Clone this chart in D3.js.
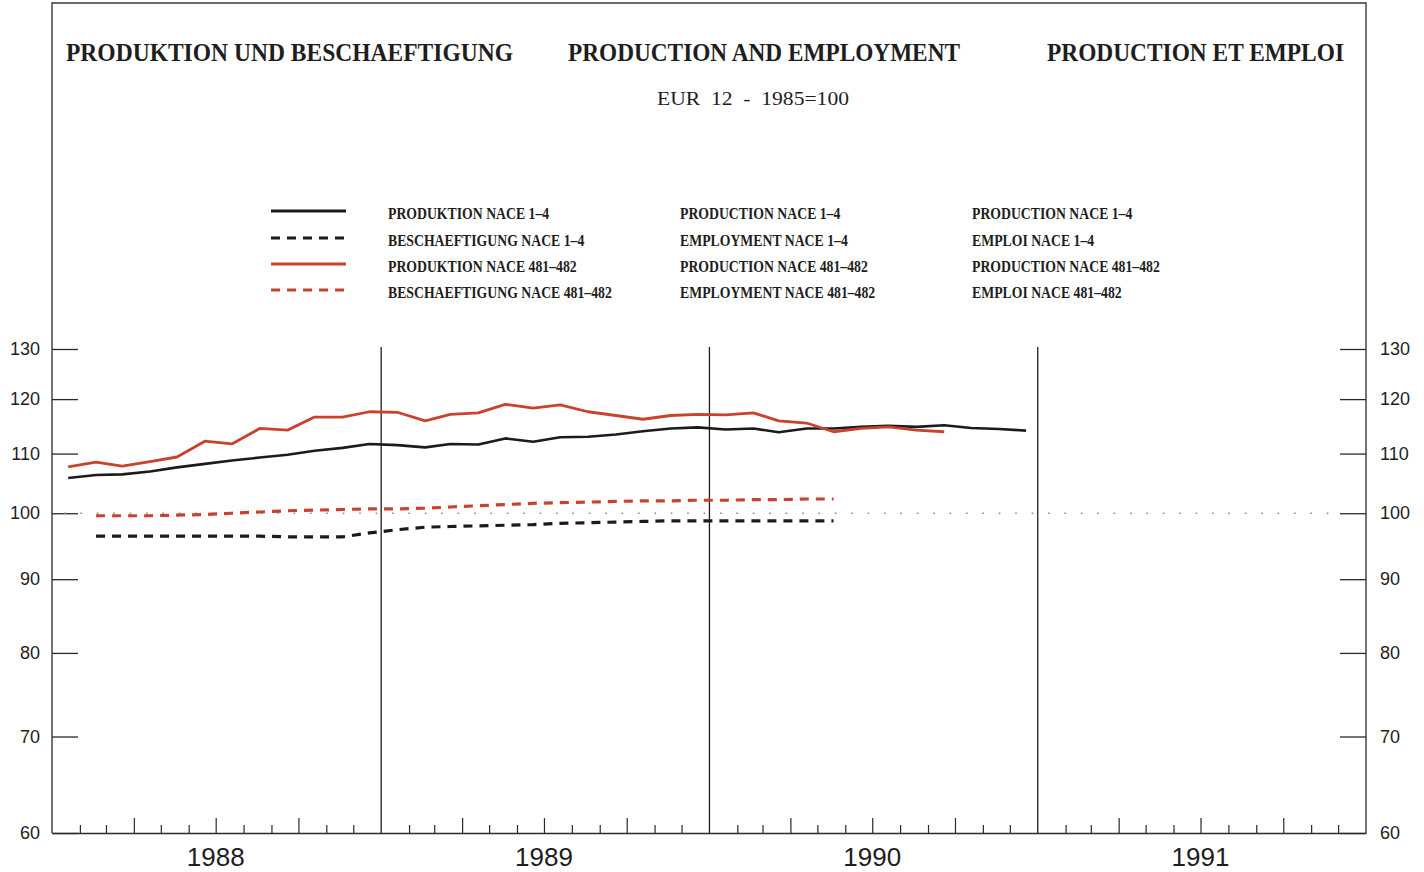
<!DOCTYPE html>
<html>
<head>
<meta charset="utf-8">
<script src="https://cdn.jsdelivr.net/npm/d3@7"></script>
<style>
  html, body { margin: 0; padding: 0; background: #ffffff; }
  svg { display: block; }
  text { fill: #1e1e1e; }
</style>
</head>
<body>
<svg id="chart" width="1424" height="872"></svg>
<script>
// ---------------- DATA ----------------
const titles = ["PRODUKTION UND BESCHAEFTIGUNG", "PRODUCTION AND EMPLOYMENT", "PRODUCTION ET EMPLOI"];
const subtitle = "EUR  12  -  1985=100";
const years = [1988, 1989, 1990, 1991];
const yTicks = [60, 70, 80, 90, 100, 110, 120, 130];

// Monthly index values, production NACE 1-4, Jan 1988 - Dec 1990
const prodNace14 = [105.8, 106.3, 106.4, 106.9, 107.6, 108.2, 108.8, 109.3, 109.8, 110.5, 111.0, 111.7,
                    111.5, 111.1, 111.7, 111.6, 112.7, 112.1, 112.9, 113.0, 113.4, 114.0, 114.5, 114.7,
                    114.3, 114.5, 113.8, 114.5, 114.5, 114.8, 115.0, 114.8, 115.1, 114.6, 114.4, 114.1];
// Production NACE 481-482, Jan 1988 - Sep 1990
const prodNace481 = [107.7, 108.5, 107.8, 108.6, 109.4, 112.2, 111.7, 114.5, 114.2, 116.6, 116.6, 117.6,
                     117.5, 115.9, 117.1, 117.4, 119.0, 118.3, 118.9, 117.6, 116.9, 116.2, 116.9, 117.1,
                     117.0, 117.4, 115.9, 115.5, 113.9, 114.5, 114.8, 114.2, 113.9];
// Employment NACE 1-4, Feb 1988 - May 1990
const emplNace14 = [96.4, 96.4, 96.4, 96.4, 96.4, 96.4, 96.4, 96.3, 96.3, 96.3, 96.9,
                    97.4, 97.8, 97.9, 98.0, 98.1, 98.2, 98.4, 98.5, 98.6, 98.7, 98.8, 98.8,
                    98.8, 98.8, 98.8, 98.8, 98.8];
// Employment NACE 481-482, Feb 1988 - May 1990
const emplNace481 = [99.6, 99.6, 99.6, 99.7, 99.8, 100.0, 100.2, 100.4, 100.5, 100.6, 100.7,
                     100.7, 100.8, 101.0, 101.2, 101.4, 101.6, 101.7, 101.8, 101.9, 102.0, 102.0, 102.1,
                     102.1, 102.2, 102.2, 102.3, 102.3];

const legendDe = ["PRODUKTION NACE 1–4", "BESCHAEFTIGUNG NACE 1–4", "PRODUKTION NACE 481–482", "BESCHAEFTIGUNG NACE 481–482"];
const legendEn = ["PRODUCTION NACE 1–4", "EMPLOYMENT NACE 1–4", "PRODUCTION NACE 481–482", "EMPLOYMENT NACE 481–482"];
const legendFr = ["PRODUCTION NACE 1–4", "EMPLOI NACE 1–4", "PRODUCTION NACE 481–482", "EMPLOI NACE 481–482"];

// ---------------- STYLE ----------------
const BLACK = "#1b1b1b";
const RED = "#c9422e";
const series = [
  { values: prodNace14,  startMonth: 0, color: BLACK, dash: null,  width: 2.6 },
  { values: emplNace14,  startMonth: 1, color: BLACK, dash: "9,7", width: 3.2 },
  { values: prodNace481, startMonth: 0, color: RED,   dash: null,  width: 2.8 },
  { values: emplNace481, startMonth: 1, color: RED,   dash: "9,7", width: 3.2 }
];

const svg = d3.select("#chart");
const M = { left: 52, right: 1366, top: 3, bottom: 833, plotTop: 347 };

const x = d3.scaleTime()
  .domain([new Date(1988, 0, 1), new Date(1992, 0, 1)])
  .range([M.left, M.right]);
const y = d3.scaleLog()
  .domain([60, 130])
  .range([M.bottom, 349]);

const pointDate = i => new Date(1988, i, 19);

// ---------------- FRAME ----------------
svg.append("path")
  .attr("d", `M${M.left},${M.bottom}V${M.top}H${M.right}V${M.bottom}`)
  .attr("fill", "none").attr("stroke", "#3a3a3a").attr("stroke-width", 1.4);

// ---------------- TITLES ----------------
const titleX = [66, 568, 1047];
const titleW = [447, 392, 297];
svg.selectAll("text.title").data(titles).join("text")
  .attr("class", "title")
  .attr("x", (d, i) => titleX[i]).attr("y", 61)
  .attr("textLength", (d, i) => titleW[i])
  .attr("lengthAdjust", "spacingAndGlyphs")
  .style("font-family", "'Liberation Serif', 'DejaVu Serif', serif")
  .style("font-weight", "bold").style("font-size", "26px")
  .text(d => d);

svg.append("text")
  .attr("x", 657).attr("y", 105)
  .attr("textLength", 192).attr("lengthAdjust", "spacingAndGlyphs")
  .style("font-family", "'Liberation Serif', serif")
  .style("font-size", "18px")
  .style("white-space", "pre")
  .text(subtitle);

// ---------------- LEGEND ----------------
const legRowY = [211, 238, 264, 290];
const leg = svg.append("g");
series.forEach((s, i) => {
  leg.append("line")
    .attr("x1", 271).attr("x2", 346)
    .attr("y1", legRowY[i]).attr("y2", legRowY[i])
    .attr("stroke", s.color).attr("stroke-width", 3)
    .attr("stroke-dasharray", s.dash ? "9,7" : null);
});
const legCols = [{ x: 388, labels: legendDe }, { x: 680, labels: legendEn }, { x: 972, labels: legendFr }];
legCols.forEach(col => {
  col.labels.forEach((t, i) => {
    leg.append("text")
      .attr("transform", `translate(${col.x},${legRowY[i] + 8}) scale(0.86,1)`)
      .style("font-family", "'Liberation Serif', serif")
      .style("font-weight", "bold").style("font-size", "16px")
      .text(t);
  });
});

// ---------------- AXES ----------------
const fmt = d3.format("d");
const yLeft = svg.append("g")
  .attr("transform", `translate(${M.left},0)`)
  .call(d3.axisLeft(y).tickValues(yTicks).tickFormat(fmt).tickSize(-26).tickPadding(12));
const yRight = svg.append("g")
  .attr("transform", `translate(${M.right},0)`)
  .call(d3.axisRight(y).tickValues(yTicks).tickFormat(fmt).tickSize(-26).tickPadding(14));
[yLeft, yRight].forEach(g => {
  g.select(".domain").remove();
  g.selectAll(".tick line").attr("stroke", "#2a2a2a").attr("stroke-width", 1.3);
  g.selectAll(".tick text")
    .style("font-family", "'Liberation Sans', Arial, sans-serif")
    .style("font-size", "18px").attr("fill", "#1e1e1e");
});

// bottom axis: monthly ticks, quarterly longer
const monthTicks = d3.timeMonth.range(new Date(1988, 1, 1), new Date(1992, 0, 1))
  .filter(d => d.getMonth() !== 0);
const xAxis = svg.append("g")
  .attr("transform", `translate(0,${M.bottom})`)
  .call(d3.axisBottom(x).tickValues(monthTicks).tickFormat("").tickSize(-8).tickSizeOuter(0));
xAxis.select(".domain").attr("stroke", "#2a2a2a").attr("stroke-width", 1.4);
xAxis.selectAll(".tick line")
  .attr("stroke", "#2a2a2a").attr("stroke-width", 1.2)
  .attr("y2", d => (d.getMonth() % 3 === 0) ? -15 : -8);

// year separator lines
svg.selectAll("line.yearSep").data(years.slice(1)).join("line")
  .attr("class", "yearSep")
  .attr("x1", d => x(new Date(d, 0, 1))).attr("x2", d => x(new Date(d, 0, 1)))
  .attr("y1", M.plotTop).attr("y2", M.bottom)
  .attr("stroke", "#1e1e1e").attr("stroke-width", 1.3);

// year labels
svg.selectAll("text.year").data(years).join("text")
  .attr("class", "year")
  .attr("x", d => x(new Date(d, 6, 1)))
  .attr("y", 866)
  .attr("text-anchor", "middle")
  .style("font-family", "'Liberation Sans', Arial, sans-serif")
  .style("font-size", "26px").attr("fill", "#2a2a2a")
  .text(d => d);

// ---------------- REFERENCE LINE (100) ----------------
svg.append("line")
  .attr("x1", 64).attr("x2", 1340)
  .attr("y1", y(100)).attr("y2", y(100))
  .attr("stroke", "#8a8a8a").attr("stroke-width", 1.6)
  .attr("stroke-dasharray", "1.6,14.8");

// ---------------- SERIES ----------------
const line = d3.line()
  .x(d => x(d.date))
  .y(d => y(d.v));
series.forEach(s => {
  const pts = s.values.map((v, i) => ({ date: pointDate(s.startMonth + i), v }));
  svg.append("path")
    .datum(pts)
    .attr("d", line)
    .attr("fill", "none")
    .attr("stroke", s.color)
    .attr("stroke-width", s.width)
    .attr("stroke-linejoin", "round")
    .attr("stroke-dasharray", s.dash);
});
</script>
</body>
</html>
